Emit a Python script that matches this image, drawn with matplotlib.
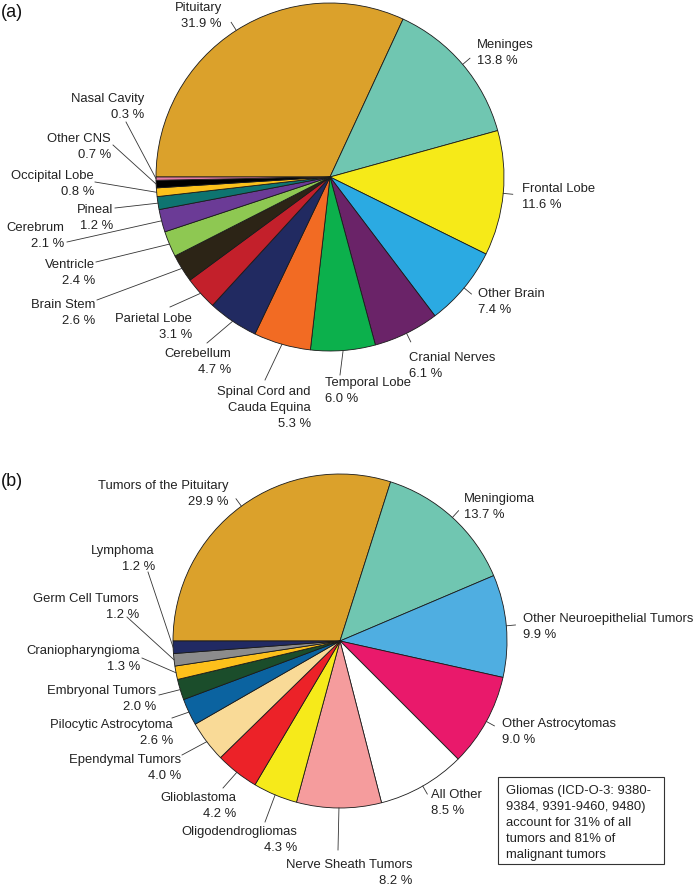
import matplotlib
matplotlib.use("Agg")
import matplotlib.pyplot as plt
from matplotlib.patches import Rectangle
import numpy as np

plt.rcParams['font.family'] = ['Liberation Sans', 'DejaVu Sans']

# ---------------- data ----------------
sites = ["Pituitary", "Meninges", "Frontal Lobe", "Other Brain", "Cranial Nerves",
         "Temporal Lobe", "Spinal Cord and\nCauda Equina", "Cerebellum", "Parietal Lobe",
         "Brain Stem", "Ventricle", "Cerebrum", "Pineal", "Occipital Lobe",
         "Other CNS", "Nasal Cavity"]
site_pct = [31.9, 13.8, 11.6, 7.4, 6.1, 6.0, 5.3, 4.7, 3.1, 2.6, 2.4, 2.1, 1.2, 0.8, 0.7, 0.3]
site_colors = ["#DBA12B", "#70C6B1", "#F6EA18", "#2BAAE2", "#6A2368", "#0CB04C",
               "#F26B23", "#212A61", "#C3202B", "#2C2416", "#8EC852", "#6B3B96",
               "#0E7470", "#FBC11C", "#000000", "#E47DA4"]

histos = ["Tumors of the Pituitary", "Meningioma", "Other Neuroepithelial Tumors",
          "Other Astrocytomas", "All Other", "Nerve Sheath Tumors", "Oligodendrogliomas",
          "Glioblastoma", "Ependymal Tumors", "Pilocytic Astrocytoma", "Embryonal Tumors",
          "Craniopharyngioma", "Germ Cell Tumors", "Lymphoma"]
histo_pct = [29.9, 13.7, 9.9, 9.0, 8.5, 8.2, 4.3, 4.2, 4.0, 2.6, 2.0, 1.3, 1.2, 1.2]
histo_colors = ["#DBA12B", "#70C6B1", "#4FAEE1", "#E9196B", "#FFFFFF", "#F59C9D",
                "#F6EA1A", "#EC2228", "#F9DA97", "#0B63A0", "#1B4D2B", "#FDC01B",
                "#8C8C8C", "#212A63"]

note_text = ["Gliomas (ICD-O-3: 9380-", "9384, 9391-9460, 9480)",
             "account for 31% of all", "tumors and 81% of", "malignant tumors"]

# ---------------- layout (pixels) ----------------
W, H = 695, 886
FS = 9.4
LINE = 16.0

# label layout: (text x, first-line center y, ha, leader end or None for radial tick)
layout_a = [
    (222, 6, 'right', None),
    (477, 43, 'left', None),
    (522, 187, 'left', None),
    (478, 292, 'left', None),
    (409, 356, 'left', None),
    (325, 381, 'left', (340, 375)),
    (311, 390, 'right', (265, 380)),
    (231, 352, 'right', (207, 343)),
    (192, 317, 'right', (170, 307)),
    (95, 303, 'right', (97, 300)),
    (95, 263, 'right', (96, 262)),
    (64, 226, 'right', (67, 242)),
    (113, 208, 'right', (115, 208)),
    (94, 174, 'right', (95, 182)),
    (111, 137, 'right', (113, 145)),
    (144, 97, 'right', (126, 122)),
]
layout_b = [
    (229, 484, 'right', None),
    (464, 497, 'left', None),
    (523, 617, 'left', None),
    (502, 722, 'left', None),
    (431, 793, 'left', None),
    (412, 863, 'right', (338, 850)),
    (297, 830, 'right', (265, 822)),
    (236, 796, 'right', (223, 788)),
    (181, 758, 'right', (182, 755)),
    (173, 723, 'right', (172, 718)),
    (156, 689, 'right', (159, 695)),
    (140, 649, 'right', (142, 658)),
    (139, 597, 'right', (127, 617)),
    (155, 549, 'right', (148, 572)),
]

fig = plt.figure(figsize=(W / 100, H / 100), dpi=100)


def draw_panel(rect_top, rect_bot, cx, cy, R, names, vals, colors, layout, letter, letter_y):
    ax = fig.add_axes([0, 1 - rect_bot / H, 1, (rect_bot - rect_top) / H])
    wedges, _ = ax.pie(vals, colors=colors, startangle=180, counterclock=False,
                       radius=1.0, center=(0, 0),
                       wedgeprops=dict(edgecolor='#1a1a1a', linewidth=0.6))
    ax.set_aspect('auto')
    ax.set_xlim((0 - cx) / R, (W - cx) / R)
    ax.set_ylim((cy - rect_bot) / R, (cy - rect_top) / R)
    ax.axis('off')

    def to_d(px, py):
        return (px - cx) / R, (cy - py) / R

    cap = 0.716 * FS * 100 / 72 / 2  # half cap height in px
    for w, name, v, (tx, ty, ha, lend) in zip(wedges, names, vals, layout):
        mid = np.deg2rad((w.theta1 + w.theta2) / 2)
        ex, ey = np.cos(mid), np.sin(mid)
        if lend is None:
            ax.plot([ex, 1.055 * ex], [ey, 1.055 * ey], color='#333333', lw=0.6)
        else:
            lx, ly = to_d(*lend)
            ax.plot([ex, lx], [ey, ly], color='#333333', lw=0.6)
        lines = name.split("\n") + ["%.1f %%" % v]
        for i, ln in enumerate(lines):
            x, y = to_d(tx, ty + i * LINE + cap)
            ax.text(x, y, ln, ha=ha, va='baseline', fontsize=FS, color='#222222')
    lx, ly = to_d(1, letter_y)
    ax.text(lx, ly, letter, ha='left', va='baseline', fontsize=13, color='#111111')
    return ax, to_d


draw_panel(0, 443, 330, 177, 174, sites, site_pct, site_colors, layout_a, "(a)", 17)
axb, to_db = draw_panel(443, 886, 340, 641, 167, histos, histo_pct, histo_colors, layout_b, "(b)", 486)

# note box
x0, y0 = to_db(498, 864)
x1, y1 = to_db(664, 777)
axb.add_patch(Rectangle((x0, y0), x1 - x0, y1 - y0, facecolor='white',
                        edgecolor='#333333', lw=0.8))
cap = 0.716 * FS * 100 / 72 / 2
for i, ln in enumerate(note_text):
    x, y = to_db(506, 789 + i * LINE + cap)
    axb.text(x, y, ln, ha='left', va='baseline', fontsize=FS, color='#222222')

fig.savefig("out.png", dpi=100)
